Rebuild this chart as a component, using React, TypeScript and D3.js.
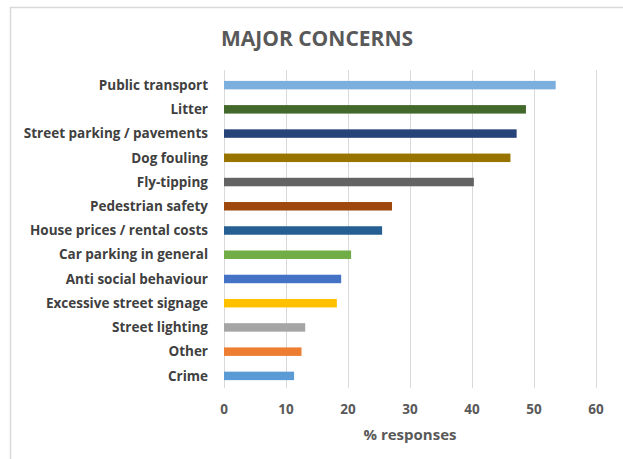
import React from "react";
import * as d3 from "d3";

const categories = [
  "Public transport",
  "Litter",
  "Street parking / pavements",
  "Dog fouling",
  "Fly-tipping",
  "Pedestrian safety",
  "House prices / rental costs",
  "Car parking in general",
  "Anti social behaviour",
  "Excessive street signage",
  "Street lighting",
  "Other",
  "Crime",
];
const values = [53.5, 48.7, 47.2, 46.2, 40.3, 27.1, 25.5, 20.5, 18.9, 18.2, 13.1, 12.5, 11.3];
const colors = [
  "#7CAFDD", "#43682B", "#264478", "#997300", "#636363", "#9E480E", "#255E91",
  "#70AD47", "#4472C4", "#FFC000", "#A5A5A5", "#ED7D31", "#5B9BD5",
];
const ticks = [0, 10, 20, 30, 40, 50, 60];
const title = "MAJOR CONCERNS";
const xTitle = "% responses";

export default function App() {
  const W = 623, H = 459;
  const x = d3.scaleLinear().domain([0, 60]).range([224, 596]);
  const y = d3.scaleBand().domain(categories).range([73, 388]).paddingInner(0.65).paddingOuter(0.325);
  const font = "'Open Sans', Lato, sans-serif";
  return (
    <div style={{ position: "absolute", left: 0, top: 0 }}>
      <svg width={W} height={H} style={{ display: "block" }}>
        <rect x={0} y={0} width={W} height={H} fill="#fff" />
        <rect x={10.5} y={7.5} width={W + 10} height={H + 10} fill="none" stroke="#D9D9D9" strokeWidth={1.5} />
        <text x={317} y={46} textAnchor="middle" fontFamily={font} fontWeight="bold" fontSize={21} fill="#595959">{title}</text>
        {ticks.map((t) => (
          <line key={t} x1={Math.round(x(t)) + 0.5} x2={Math.round(x(t)) + 0.5} y1={70} y2={388} stroke="#D9D9D9" strokeWidth={1} />
        ))}
        {categories.map((c, i) => (
          <rect key={c} x={x(0)} y={y(c)!} width={x(values[i]) - x(0)} height={y.bandwidth()} fill={colors[i]} />
        ))}
        {categories.map((c) => (
          <text key={c} x={208} y={y(c)! + y.bandwidth() / 2} dy="0.35em" textAnchor="end" fontFamily={font} fontWeight="bold" fontSize={13.5} fill="#404040">{c}</text>
        ))}
        {ticks.map((t) => (
          <text key={t} x={x(t)} y={409} dy="0.35em" textAnchor="middle" fontFamily={font} fontWeight="bold" fontSize={13.5} fill="#595959">{t}</text>
        ))}
        <text x={410} y={435} dy="0.35em" textAnchor="middle" fontFamily={font} fontWeight="bold" fontSize={15} fill="#595959">{xTitle}</text>
      </svg>
    </div>
  );
}
